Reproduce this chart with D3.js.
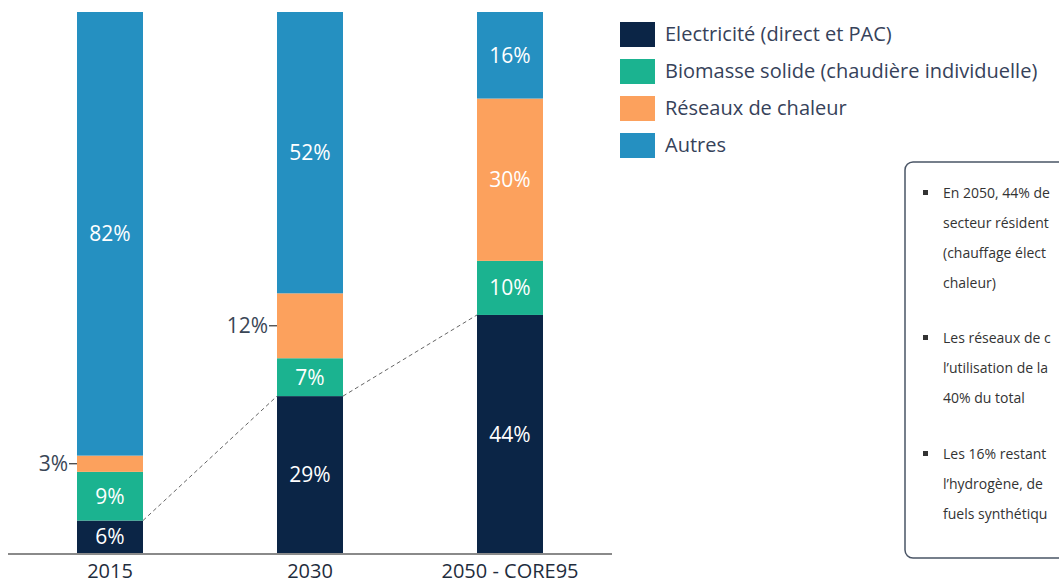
<!DOCTYPE html>
<html lang="fr">
<head>
<meta charset="utf-8">
<title>Mix chauffage résidentiel</title>
<script src="https://d3js.org/d3.v7.min.js"></script>
<style>
  body { margin: 0; background: #fff; }
  text { font-family: "Open Sans", Lato, sans-serif; }
</style>
</head>
<body>
<script>
// data
var categories = ["2015", "2030", "2050 - CORE95"];
var seriesNames = ["Electricité (direct et PAC)", "Biomasse solide (chaudière individuelle)", "Réseaux de chaleur", "Autres"];
var electricite = [6, 29, 44];
var biomasse = [9, 7, 10];
var reseaux = [3, 12, 30];
var autres = [82, 52, 16];
var colors = ["#0b2546", "#1bb390", "#fca15d", "#2590c1"];
// the note box is cut at the right edge in the original, only the visible part is kept
var noteLines = [
  ["En 2050, 44% de", "secteur résident", "(chauffage élect", "chaleur)"],
  ["Les réseaux de c", "l’utilisation de la", "40% du total"],
  ["Les 16% restant", "l’hydrogène, de", "fuels synthétiqu"]
];

var w = 1059, h = 587;
var svg = d3.select("body").append("svg").attr("width", w).attr("height", h);

var x = d3.scaleBand().domain(categories).range([8, 612]).paddingInner(0.67).paddingOuter(0.345);
var y = d3.scaleLinear().domain([0, 100]).range([553, 12]);

var rows = categories.map(function (c, i) {
  return { cat: c, elec: electricite[i], bio: biomasse[i], rdc: reseaux[i], aut: autres[i] };
});
var stack = d3.stack().keys(["elec", "bio", "rdc", "aut"])(rows);

var layer = svg.selectAll("g.layer").data(stack).enter().append("g")
  .attr("fill", function (d, i) { return colors[i]; });

layer.selectAll("rect").data(function (d) { return d; }).enter().append("rect")
  .attr("x", function (d) { return x(d.data.cat); })
  .attr("y", function (d) { return y(d[1]); })
  .attr("width", x.bandwidth())
  .attr("height", function (d) { return y(d[0]) - y(d[1]); });

// labels inside bars, réseaux de chaleur 2015/2030 go outside
stack.forEach(function (s, k) {
  s.forEach(function (d, i) {
    var v = d[1] - d[0];
    var mid = (y(d[0]) + y(d[1])) / 2;
    var bx = x(d.data.cat);
    if (k == 2 && i < 2) {
      svg.append("line").attr("x1", bx - 8).attr("x2", bx).attr("y1", mid).attr("y2", mid)
        .attr("stroke", "#333").attr("stroke-width", 1.2);
      svg.append("text").attr("x", bx - 9).attr("y", mid).attr("dy", "0.36em")
        .attr("text-anchor", "end").attr("fill", "#3a4656").attr("font-size", 21)
        .text(v + "%");
    } else {
      svg.append("text")
        .attr("x", bx + x.bandwidth() / 2)
        .attr("y", mid)
        .attr("dy", "0.36em")
        .attr("text-anchor", "middle")
        .attr("fill", "#fff")
        .attr("font-size", 21)
        .text(v + "%");
    }
  });
});

// dashed connectors between electricity tops
for (var i = 0; i < categories.length - 1; i++) {
  svg.append("line")
    .attr("x1", x(categories[i]) + x.bandwidth())
    .attr("y1", y(electricite[i]))
    .attr("x2", x(categories[i + 1]))
    .attr("y2", y(electricite[i + 1]))
    .attr("stroke", "#666").attr("stroke-width", 1).attr("stroke-dasharray", "4,3");
}

// baseline
svg.append("line").attr("x1", 8).attr("x2", 612).attr("y1", 554).attr("y2", 554)
  .attr("stroke", "#8a8a8a").attr("stroke-width", 2);

// category labels
svg.selectAll("text.cat").data(categories).enter().append("text")
  .attr("class", "cat")
  .attr("x", function (d) { return x(d) + x.bandwidth() / 2; })
  .attr("y", 578)
  .attr("text-anchor", "middle")
  .attr("fill", "#1f2d3d")
  .attr("font-size", 20)
  .text(function (d) { return d; });

// legend
var leg = svg.selectAll("g.leg").data(seriesNames).enter().append("g")
  .attr("transform", function (d, i) { return "translate(620," + (22 + i * 37) + ")"; });
leg.append("rect").attr("width", 35).attr("height", 25)
  .attr("fill", function (d, i) { return colors[i]; });
leg.append("text").attr("x", 45).attr("y", 12).attr("dy", "0.36em")
  .attr("fill", "#36425a").attr("font-size", 20)
  .text(function (d) { return d; });

// note box
svg.append("rect").attr("x", 905).attr("y", 162).attr("width", 200).attr("height", 396)
  .attr("rx", 8).attr("fill", "#fff").attr("stroke", "#4a5566").attr("stroke-width", 1.5);
var ly = [193, 338, 454];
noteLines.forEach(function (lines, b) {
  svg.append("rect").attr("x", 923).attr("y", ly[b] - 3).attr("width", 5).attr("height", 5).attr("fill", "#333");
  lines.forEach(function (t, k) {
    svg.append("text").attr("x", 943).attr("y", ly[b] + k * 30).attr("dy", "0.36em")
      .attr("fill", "#333").attr("font-size", 14).text(t);
  });
});
</script>
</body>
</html>
